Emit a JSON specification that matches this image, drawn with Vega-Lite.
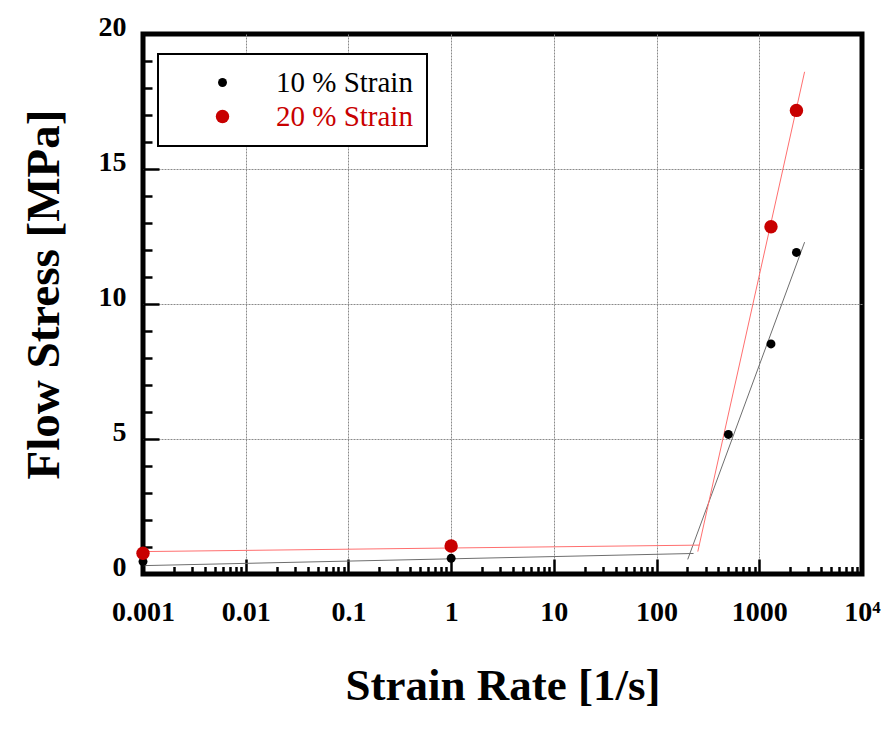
{
  "$schema": "https://vega.github.io/schema/vega-lite/v6.json",
  "width": 719,
  "height": 540,
  "autosize": {"type": "none"},
  "padding": {"left": 143, "top": 34, "right": 21, "bottom": 156},
  "background": "white",
  "datasets": {
    "measured": [
      {"rate": 0.001, "stress": 0.46, "series": "10 % Strain"},
      {"rate": 1, "stress": 0.58, "series": "10 % Strain"},
      {"rate": 500, "stress": 5.17, "series": "10 % Strain"},
      {"rate": 1300, "stress": 8.52, "series": "10 % Strain"},
      {"rate": 2300, "stress": 11.91, "series": "10 % Strain"},
      {"rate": 0.001, "stress": 0.77, "series": "20 % Strain"},
      {"rate": 1, "stress": 1.04, "series": "20 % Strain"},
      {"rate": 1300, "stress": 12.86, "series": "20 % Strain"},
      {"rate": 2300, "stress": 17.17, "series": "20 % Strain"}
    ],
    "fits": [
      {"rate": 0.001, "stress": 0.31, "fit": "10 %", "segment": "low"},
      {"rate": 229, "stress": 0.76, "fit": "10 %", "segment": "low"},
      {"rate": 201, "stress": 0.54, "fit": "10 %", "segment": "high"},
      {"rate": 2762, "stress": 12.29, "fit": "10 %", "segment": "high"},
      {"rate": 0.001, "stress": 0.83, "fit": "20 %", "segment": "low"},
      {"rate": 261, "stress": 1.07, "fit": "20 %", "segment": "low"},
      {"rate": 252, "stress": 0.83, "fit": "20 %", "segment": "high"},
      {"rate": 2762, "stress": 18.6, "fit": "20 %", "segment": "high"}
    ]
  },
  "resolve": {"axis": {"x": "independent", "y": "independent"}},
  "layer": [
    {
      "data": {"name": "fits"},
      "transform": [{"filter": "datum.fit === '10 %'"}],
      "mark": {"type": "line", "strokeWidth": 1, "stroke": "#6e6e6e"},
      "encoding": {
        "x": {
          "field": "rate",
          "type": "quantitative",
          "scale": {"type": "log", "domain": [0.001, 10000], "nice": false},
          "axis": {
            "orient": "bottom",
            "title": null,
            "labels": false,
            "grid": false,
            "domain": false,
            "tickSize": -7.5,
            "values": [0.002, 0.003, 0.004, 0.005, 0.006, 0.007, 0.008, 0.009,
                       0.02, 0.03, 0.04, 0.05, 0.06, 0.07, 0.08, 0.09,
                       0.2, 0.3, 0.4, 0.5, 0.6, 0.7, 0.8, 0.9,
                       2, 3, 4, 5, 6, 7, 8, 9,
                       20, 30, 40, 50, 60, 70, 80, 90,
                       200, 300, 400, 500, 600, 700, 800, 900,
                       2000, 3000, 4000, 5000, 6000, 7000, 8000, 9000]
          }
        },
        "y": {
          "field": "stress",
          "type": "quantitative",
          "scale": {"domain": [0, 20], "nice": false},
          "axis": {
            "orient": "right",
            "offset": -719,
            "title": null,
            "labels": false,
            "grid": false,
            "domain": false,
            "tickSize": 9,
            "values": [1, 2, 3, 4, 6, 7, 8, 9, 11, 12, 13, 14, 16, 17, 18, 19]
          }
        },
        "detail": {"field": "segment", "type": "nominal"}
      }
    },
    {
      "data": {"name": "fits"},
      "transform": [{"filter": "datum.fit === '20 %'"}],
      "mark": {"type": "line", "strokeWidth": 1, "stroke": "#ff6f6f"},
      "encoding": {
        "x": {"field": "rate", "type": "quantitative", "axis": null},
        "y": {
          "field": "stress",
          "type": "quantitative",
          "axis": {
            "orient": "right",
            "offset": -719,
            "title": null,
            "labels": false,
            "grid": false,
            "domain": false,
            "tickSize": 16,
            "values": [5, 10, 15]
          }
        },
        "detail": {"field": "segment", "type": "nominal"}
      }
    },
    {
      "data": {"name": "measured"},
      "mark": {"type": "circle", "opacity": 1},
      "encoding": {
        "x": {
          "field": "rate",
          "type": "quantitative",
          "axis": {
            "orient": "bottom",
            "title": "Strain Rate [1/s]",
            "values": [0.001, 0.01, 0.1, 1, 10, 100, 1000, 10000],
            "labelExpr": "datum.value >= 9999 ? '10⁴' : toString(datum.value)",
            "labelOverlap": false,
            "labelFlush": false,
            "labelPadding": 39,
            "titlePadding": 37,
            "titleFontSize": 45,
            "grid": true,
            "domain": false,
            "tickSize": -15,
            "gridOpacity": {
              "condition": {"test": "datum.value > 0.0015 && datum.value < 9999", "value": 1},
              "value": 0
            }
          }
        },
        "y": {
          "field": "stress",
          "type": "quantitative",
          "axis": {
            "orient": "left",
            "title": "Flow Stress [MPa]",
            "values": [0, 5, 10, 15, 20],
            "labelOverlap": false,
            "labelFlush": false,
            "ticks": false,
            "labelPadding": 17,
            "labelOffset": -7,
            "titlePadding": 30,
            "titleFontSize": 47,
            "titleY": 260,
            "grid": true,
            "domain": false,
            "gridOpacity": {
              "condition": {"test": "datum.value > 0 && datum.value < 20", "value": 1},
              "value": 0
            }
          }
        },
        "color": {
          "field": "series",
          "type": "nominal",
          "scale": {"domain": ["10 % Strain", "20 % Strain"], "range": ["#000000", "#c80000"]},
          "legend": {
            "title": null,
            "orient": "none",
            "legendX": 15,
            "legendY": 20,
            "fillColor": "white",
            "strokeColor": "black",
            "padding": 14,
            "rowPadding": 4,
            "symbolOffset": 36,
            "labelOffset": 39,
            "labelLimit": 400,
            "labelFont": "Liberation Serif",
            "labelFontSize": 29,
            "labelColor": {"expr": "datum.value === '20 % Strain' ? '#c80000' : '#000000'"},
            "symbolType": "circle",
            "symbolStrokeWidth": 0
          }
        },
        "size": {
          "field": "series",
          "type": "nominal",
          "scale": {"domain": ["10 % Strain", "20 % Strain"], "range": [80, 180]},
          "legend": {
            "title": null,
            "orient": "none",
            "legendX": 15,
            "legendY": 20,
            "fillColor": "white",
            "strokeColor": "black",
            "padding": 14,
            "rowPadding": 4,
            "symbolOffset": 36,
            "labelOffset": 39,
            "labelLimit": 400,
            "labelFont": "Liberation Serif",
            "labelFontSize": 29,
            "labelColor": {"expr": "datum.value === '20 % Strain' ? '#c80000' : '#000000'"},
            "symbolType": "circle",
            "symbolStrokeWidth": 0
          }
        }
      }
    }
  ],
  "config": {
    "view": {"stroke": "black", "strokeWidth": 5},
    "legend": {"strokeWidth": 2},
    "axis": {
      "labelFont": "Liberation Serif",
      "labelFontSize": 28,
      "labelFontWeight": "bold",
      "labelColor": "black",
      "titleFont": "Liberation Serif",
      "titleFontWeight": "bold",
      "titleColor": "black",
      "tickColor": "black",
      "tickWidth": 2.5,
      "gridColor": "#8a8a8a",
      "gridWidth": 1,
      "gridDash": [2, 1]
    }
  }
}
